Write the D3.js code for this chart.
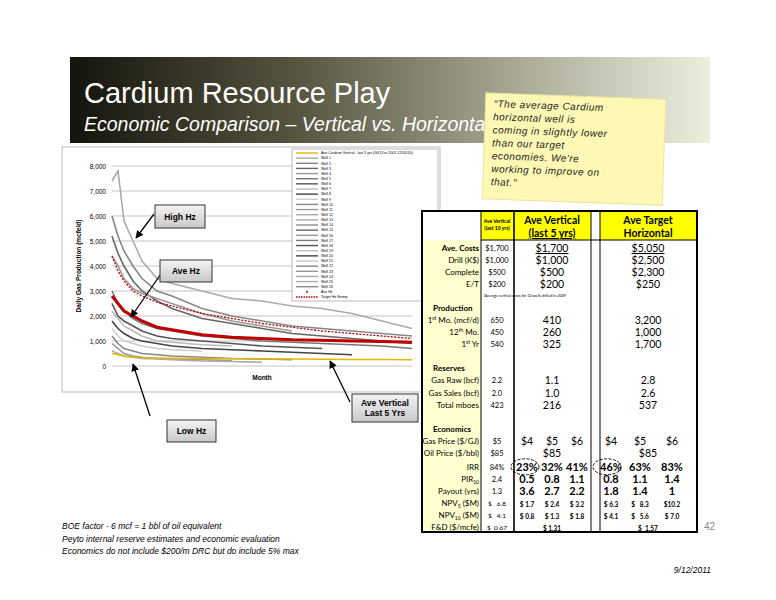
<!DOCTYPE html>
<html>
<head>
<meta charset="utf-8">
<script src="https://cdn.jsdelivr.net/npm/d3@7"></script>
<style>
  body { margin: 0; background: #fff; }
  text { font-family: "Liberation Sans", Arial, sans-serif; }
  .tb text { font-family: Lato, "Open Sans", sans-serif; }
</style>
</head>
<body>
<div id="chartArea"></div>
<script>
// production history, mcf/d, sampled at these months
const months = [0, 2, 4, 7, 10, 15, 20, 30, 40, 50, 60, 70, 80, 90, 100];
const wells = [
  [7400, 7800, 5800, 5000, 4200, 3500, 3300, 3000, 2700, 2600, 2400, 2300, 2100, 1800, 1500],
  [6000, 5200, 4600, 4000, 3500, 3000, 2800, 2300, 2000, 1800, 1600, 1500, 1400, 1300, 1200],
  [5200, 4500, 4000, 3400, 3000, 2600, 2300, 1900, 1700, 1500, 1300, 1200, 1100, 1000, 900],
  [4400, 4000, 3500, 3100, 2900, 2700, 2500, 2100, 1800, 1600, 1400, null, null, null, null],
  [3000, 2500, 2200, 1900, 1700, 1500, 1400, 1200, 1100, 1000, 950, 900, 850, 800, 700],
  [2500, 2000, 1800, 1600, 1400, 1200, 1100, 1000, 900, 800, 750, 700, null, null, null],
  [2200, 1900, 1600, 1400, 1200, 1000, 950, 850, 800, null, null, null, null, null, null],
  [1800, 1500, 1300, 1100, 1000, 900, 800, 700, 650, 600, 550, 500, 450, null, null],
  [1500, 1200, 1000, 900, 800, 700, 650, 600, null, null, null, null, null, null, null],
  [1200, 900, 700, 600, 500, 450, 400, 350, 300, 280, 250, null, null, null, null],
  [900, 700, 500, 400, 350, 300, 280, 250, 220, null, null, null, null, null, null],
  [600, 500, 400, 350, 300, 280, 250, 200, 180, 150, null, null, null, null, null]
];
const wellColors = ["#aaa", "#888", "#666", "#999", "#777", "#555", "#bbb", "#444", "#ccc", "#888", "#999", "#aaa"];
const aveHz = [2800, 2500, 2200, 2000, 1800, 1550, 1450, 1250, 1150, 1100, 1050, 1030, 1000, 980, 950];
const targetHz = [4400, 3800, 3400, 3000, 2800, 2550, 2400, 2100, 1900, 1700, 1550, 1400, 1300, 1200, 1100];
const aveVert = [500, 450, 400, 350, 330, 320, 310, 300, 290, 280, 280, 270, 260, 260, 250];
const yTicks = [0, 1000, 2000, 3000, 4000, 5000, 6000, 7000, 8000];
const legendNames = ["Ave Cardium Vertical - last 5 yrs (06/13 to 2005-12/05/10)"]
  .concat(d3.range(1, 27).map(i => "Well " + i), ["Ave Hz", "Target Hz Estmp"]);

// table
const tenHdr = ["Ave Vertical", "(last 10 yrs)"];
const rows = [
  { label: "Ave. Costs", bold: true, ten: "$1,700", vert: ["$1,700"], hz: ["$5,050"], ul: true },
  { label: "Drill (K$)", ten: "$1,000", vert: ["$1,000"], hz: ["$2,500"] },
  { label: "Complete", ten: "$500", vert: ["$500"], hz: ["$2,300"] },
  { label: "E/T", ten: "$200", vert: ["$200"], hz: ["$250"] },
  { note: "*Average vertical costs for 10 wells drilled in 2009" },
  { section: "Production" },
  { label: "1st Mo. (mcf/d)", ten: "650", vert: ["410"], hz: ["3,200"] },
  { label: "12th Mo.", ten: "450", vert: ["260"], hz: ["1,000"] },
  { label: "1st Yr", ten: "540", vert: ["325"], hz: ["1,700"] },
  {},
  { section: "Reserves" },
  { label: "Gas Raw (bcf)", ten: "2.2", vert: ["1.1"], hz: ["2.8"] },
  { label: "Gas Sales (bcf)", ten: "2.0", vert: ["1.0"], hz: ["2.6"] },
  { label: "Total mboes", ten: "423", vert: ["216"], hz: ["537"] },
  {},
  { section: "Economics" },
  { label: "Gas Price ($/GJ)", ten: "$5", vert: ["$4", "$5", "$6"], hz: ["$4", "$5", "$6"] },
  { label: "Oil Price ($/bbl)", ten: "$85", vert: ["$85"], hz: ["$85"] },
  { label: "IRR", ten: "84%", vert: ["23%", "32%", "41%"], hz: ["46%", "63%", "83%"], big: true, cloud: true },
  { label: "PIR10", ten: "2.4", vert: ["0.5", "0.8", "1.1"], hz: ["0.8", "1.1", "1.4"], big: true },
  { label: "Payout (yrs)", ten: "1.3", vert: ["3.6", "2.7", "2.2"], hz: ["1.8", "1.4", "1"], big: true },
  { label: "NPV5 ($M)", ten: "$   6.8", vert: ["$ 1.7", "$ 2.4", "$ 3.2"], hz: ["$ 6.3", "$   8.3", "$10.2"], small: true },
  { label: "NPV10 ($M)", ten: "$   4.1", vert: ["$ 0.8", "$ 1.3", "$ 1.8"], hz: ["$ 4.1", "$   5.6", "$ 7.0"], small: true },
  { label: "F&D ($/mcfe)", ten: "$  0.67", vert: ["$ 1.31"], hz: ["$  1.57"], small: true }
];
const noteLines = ["\"The average Cardium", "horizontal well is", "coming in slightly lower",
  "than our target", "economies.  We're", "working to improve on", "that.\""];
const footLines = ["BOE factor  - 6 mcf = 1 bbl of oil equivalent",
  "Peyto internal reserve estimates and economic evaluation",
  "Economics do not include $200/m DRC but do include 5% max"];

const W = 776, H = 600;
const svg = d3.select("#chartArea").append("svg").attr("width", W).attr("height", H);
const defs = svg.append("defs");
const grad = defs.append("linearGradient").attr("id", "ban");
grad.append("stop").attr("offset", "0%").attr("stop-color", "#15140c");
grad.append("stop").attr("offset", "35%").attr("stop-color", "#55543f");
grad.append("stop").attr("offset", "70%").attr("stop-color", "#a9a996");
grad.append("stop").attr("offset", "100%").attr("stop-color", "#eeeedd");
const bg = defs.append("linearGradient").attr("id", "box").attr("x2", 0).attr("y2", 1);
bg.append("stop").attr("offset", "0%").attr("stop-color", "#f4f4f4");
bg.append("stop").attr("offset", "100%").attr("stop-color", "#c8c8c8");
defs.append("marker").attr("id", "arr").attr("viewBox", "0 0 10 10").attr("refX", 9).attr("refY", 5)
  .attr("markerWidth", 6).attr("markerHeight", 6).attr("orient", "auto")
  .append("path").attr("d", "M0,0L10,5L0,10z").attr("fill", "#000");

// banner
svg.append("rect").attr("x", 70).attr("y", 57).attr("width", 640).attr("height", 86).attr("fill", "url(#ban)");
svg.append("text").attr("x", 84).attr("y", 103).attr("fill", "#fff").attr("font-size", 29).text("Cardium Resource Play");
svg.append("text").attr("x", 84).attr("y", 131).attr("fill", "#fff").attr("font-size", 19.5)
  .attr("font-style", "italic").text("Economic Comparison \u2013 Vertical vs. Horizontal");

// chart box
svg.append("rect").attr("x", 62).attr("y", 147).attr("width", 378).attr("height", 245)
  .attr("fill", "#fff").attr("stroke", "#bbb");
const x = d3.scaleLinear().domain([0, 100]).range([112, 412]);
const y = d3.scaleLinear().domain([0, 8000]).range([366, 166]);
const g = svg.append("g");
g.selectAll("line.grid").data(yTicks).enter().append("line")
  .attr("x1", 112).attr("x2", 412).attr("y1", d => y(d)).attr("y2", d => y(d))
  .attr("stroke", "#aaa").attr("stroke-width", 0.7);
g.append("g").attr("transform", "translate(112,0)")
  .call(d3.axisLeft(y).tickValues(yTicks).tickFormat(d3.format(",")).tickSize(0).tickPadding(6))
  .call(a => a.select(".domain").remove())
  .selectAll("text").attr("font-size", 6.5).attr("font-family", "Lato, sans-serif");
g.append("text").attr("transform", "translate(81,266) rotate(-90)").attr("text-anchor", "middle")
  .attr("font-size", 6.5).attr("font-weight", "bold").attr("font-family", "Lato").text("Daily Gas Production (mcfe/d)");
g.append("text").attr("x", 262).attr("y", 380).attr("text-anchor", "middle")
  .attr("font-size", 6.5).attr("font-weight", "bold").attr("font-family", "Lato").text("Month");

const line = d3.line().defined(d => d != null).x((d, i) => x(months[i])).y(d => y(d));
g.selectAll("path.well").data(wells).enter().append("path")
  .attr("d", line).attr("fill", "none").attr("stroke", (d, i) => wellColors[i]).attr("stroke-width", 1.6);
g.append("path").datum(aveVert).attr("d", line).attr("fill", "none").attr("stroke", "#e8b600").attr("stroke-width", 1.5);
g.append("path").datum(targetHz).attr("d", line).attr("fill", "none").attr("stroke", "#c00000")
  .attr("stroke-width", 1.3).attr("stroke-dasharray", "2,1.5");
g.append("path").datum(aveHz).attr("d", line).attr("fill", "none").attr("stroke", "#c00000").attr("stroke-width", 3);

// legend
const lg = svg.append("g");
lg.append("rect").attr("x", 292).attr("y", 149).attr("width", 146).attr("height", 152)
  .attr("fill", "#fff").attr("stroke", "#bbb");
const ly = d3.scalePoint().domain(d3.range(legendNames.length)).range([153, 297]);
legendNames.forEach((n, i) => {
  const c = i === 0 ? "#e8b600" : i > 26 ? "#c00000" : wellColors[(i - 1) % wellColors.length];
  lg.append("line").attr("x1", 296).attr("x2", 318).attr("y1", ly(i)).attr("y2", ly(i))
    .attr("stroke", c).attr("stroke-width", i === 27 ? 0 : 1.4).attr("stroke-dasharray", i === 28 ? "1.5,1" : null);
  if (i === 27) lg.append("circle").attr("cx", 307).attr("cy", ly(i)).attr("r", 1).attr("fill", c);
  lg.append("text").attr("x", 321).attr("y", ly(i) + 1.3).attr("font-size", 3.6).text(n);
});

// callouts
const callouts = [
  { t: ["High Hz"], bx: 155, by: 205, w: 50, h: 23, from: [154, 214], to: [136, 238] },
  { t: ["Ave Hz"], bx: 160, by: 260, w: 52, h: 22, from: [165, 268], to: [131, 317] },
  { t: ["Low Hz"], bx: 167, by: 420, w: 49, h: 22, from: [150, 416], to: [133, 364] },
  { t: ["Ave Vertical", "Last 5 Yrs"], bx: 352, by: 394, w: 66, h: 28, from: [350, 402], to: [330, 361] }
];
callouts.forEach(c => {
  svg.append("line").attr("x1", c.from[0]).attr("y1", c.from[1]).attr("x2", c.to[0]).attr("y2", c.to[1])
    .attr("stroke", "#000").attr("stroke-width", 1.3).attr("marker-end", "url(#arr)");
  svg.append("rect").attr("x", c.bx).attr("y", c.by).attr("width", c.w).attr("height", c.h)
    .attr("fill", "url(#box)").attr("stroke", "#333");
  c.t.forEach((s, k) => svg.append("text").attr("x", c.bx + c.w / 2)
    .attr("y", c.by + c.h / 2 + 3 + (k - (c.t.length - 1) / 2) * 10).attr("text-anchor", "middle")
    .attr("font-size", 8.5).attr("font-weight", "bold").attr("font-family", "Lato").text(s));
});

// sticky note
const sn = svg.append("g").attr("transform", "rotate(2,574,150)");
sn.append("rect").attr("x", 484).attr("y", 96).attr("width", 180).attr("height", 106)
  .attr("fill", "#fdf8b4").attr("stroke", "#ece4a0");
noteLines.forEach((s, i) => sn.append("text").attr("x", 492).attr("y", 110 + i * 13)
  .attr("font-size", 10).attr("font-family", "DejaVu Sans").attr("font-style", "italic")
  .attr("fill", "#222").attr("letter-spacing", 0.5).text(s));

// table
const tb = svg.append("g").attr("class", "tb");
const T = { x0: 422, x1: 697, y0: 211, hy: 240, y1: 532, c1: 481, c2: 514, c3: 591, c4: 600 };
tb.append("rect").attr("x", T.x0).attr("y", T.y0).attr("width", T.x1 - T.x0).attr("height", T.y1 - T.y0).attr("fill", "#fff");
tb.append("rect").attr("x", T.x0).attr("y", T.hy).attr("width", T.c1 - T.x0).attr("height", T.y1 - T.hy).attr("fill", "#ffffd0");
tb.append("rect").attr("x", T.c1).attr("y", T.y0).attr("width", T.c3 - T.c1).attr("height", T.hy - T.y0).attr("fill", "#ffff00");
tb.append("rect").attr("x", T.c4).attr("y", T.y0).attr("width", T.x1 - T.c4).attr("height", T.hy - T.y0).attr("fill", "#ffff00");
[T.c1, T.c2, T.c3, T.c4].forEach(cx => tb.append("line").attr("x1", cx).attr("x2", cx)
  .attr("y1", T.y0).attr("y2", T.y1).attr("stroke", "#000").attr("stroke-width", cx === T.c2 ? 1.6 : 1));
tb.append("line").attr("x1", T.c1).attr("x2", T.x1).attr("y1", T.hy).attr("y2", T.hy).attr("stroke", "#000");
tb.append("rect").attr("x", T.x0).attr("y", T.y0).attr("width", T.x1 - T.x0).attr("height", T.y1 - T.y0)
  .attr("fill", "none").attr("stroke", "#000").attr("stroke-width", 2);

tenHdr.forEach((s, i) => tb.append("text").attr("x", 497).attr("y", 223 + i * 7).attr("text-anchor", "middle")
  .attr("font-size", 5).attr("font-weight", "bold").text(s));
[["Ave Vertical", "(last 5 yrs)", 552], ["Ave Target", "Horizontal", 648]].forEach(h => {
  tb.append("text").attr("x", h[2]).attr("y", 224).attr("text-anchor", "middle").attr("font-size", 10.5).attr("font-weight", "bold").text(h[0]);
  tb.append("text").attr("x", h[2]).attr("y", 237).attr("text-anchor", "middle").attr("font-size", 10.5).attr("font-weight", "bold")
    .attr("text-decoration", h[2] === 552 ? "underline" : null).text(h[1]);
});

const ry = d3.scalePoint().domain(d3.range(rows.length)).range([248, 525]);
const vertX = [527, 552, 577], hzX = [611, 640, 672];
const sub = { "1st Mo. (mcf/d)": ["1", "st", " Mo. (mcf/d)"], "12th Mo.": ["12", "th", " Mo."], "1st Yr": ["1", "st", " Yr"],
  "PIR10": ["PIR", "10", ""], "NPV5 ($M)": ["NPV", "5", " ($M)"], "NPV10 ($M)": ["NPV", "10", " ($M)"] };
rows.forEach((r, i) => {
  const yy = ry(i) + 3 + (i >= 18 ? 2 : 0);
  if (r.note) {
    tb.append("text").attr("x", 483).attr("y", yy - 2).attr("font-size", 3.8).text(r.note);
    return;
  }
  if (r.section) {
    tb.append("text").attr("x", 433).attr("y", yy).attr("font-size", 8).attr("font-weight", "bold").text(r.section);
    return;
  }
  if (!r.label) return;
  const lt = tb.append("text").attr("x", 479).attr("y", yy).attr("text-anchor", "end").attr("font-size", 8)
    .attr("font-weight", r.bold ? "bold" : null);
  const parts = sub[r.label];
  if (parts) {
    const sup = parts[1] === "st" || parts[1] === "th";
    lt.append("tspan").text(parts[0]);
    lt.append("tspan").attr("font-size", 5).attr("dy", sup ? -3 : 2).text(parts[1]);
    lt.append("tspan").attr("dy", sup ? 3 : -2).text(parts[2]);
  } else lt.text(r.label);
  tb.append("text").attr("x", 497).attr("y", yy).attr("text-anchor", "middle").attr("font-size", r.small ? 6.5 : 7.5)
    .attr("xml:space", "preserve").text(r.ten);
  const fs = r.small ? 6.5 : r.big ? 11 : 10.5;
  const fw = r.big || r.small ? "bold" : null;
  [[r.vert, vertX, 552], [r.hz, hzX, 648]].forEach(([vals, xs, mid]) => {
    vals.forEach((v, k) => tb.append("text").attr("x", vals.length === 1 ? mid : xs[k]).attr("y", yy + 1)
      .attr("text-anchor", "middle").attr("font-size", fs).attr("font-weight", fw)
      .attr("text-decoration", r.ul ? "underline" : null).attr("xml:space", "preserve").text(v));
  });
  // hand-drawn clouds around the low IRRs
  if (r.cloud) [vertX[0] - 2, hzX[0] - 4].forEach(cx => tb.append("ellipse").attr("cx", cx).attr("cy", yy - 3)
    .attr("rx", 14).attr("ry", 8).attr("fill", "none").attr("stroke", "#000")
    .attr("stroke-dasharray", "3,1.5").attr("stroke-width", 0.9));
});

// footer
footLines.forEach((s, i) => svg.append("text").attr("x", 62).attr("y", 529 + i * 12.5).attr("font-size", 8.5)
  .attr("font-style", "italic").text(s));
svg.append("text").attr("x", 704).attr("y", 530).attr("font-size", 10).attr("fill", "#888").text("42");
svg.append("text").attr("x", 711).attr("y", 573).attr("text-anchor", "end").attr("font-size", 8.5)
  .attr("font-style", "italic").text("9/12/2011");
</script>
</body>
</html>
